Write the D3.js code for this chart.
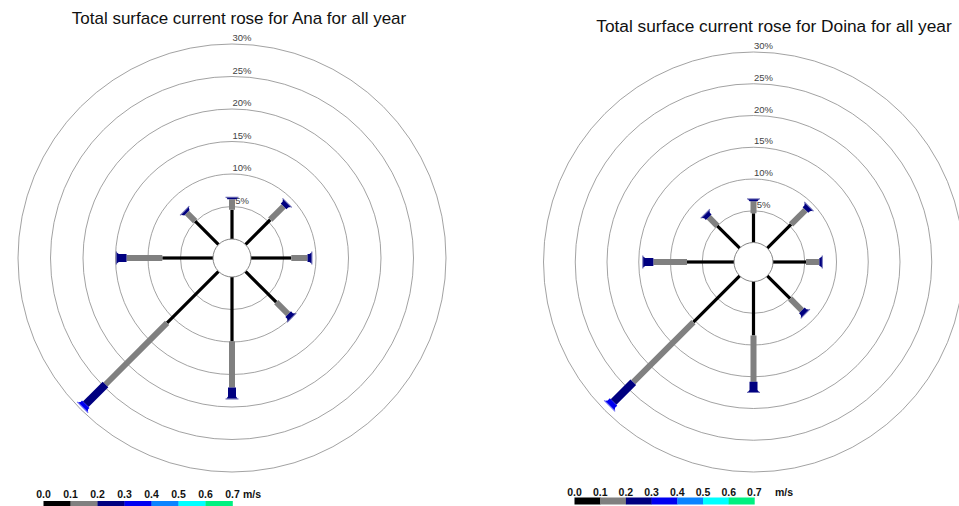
<!DOCTYPE html>
<html>
<head>
<meta charset="utf-8">
<script src="https://cdn.jsdelivr.net/npm/d3@7"></script>
<style>
  html, body { margin: 0; padding: 0; background: #fff; }
  svg { display: block; }
  text { font-family: Arial, "Liberation Sans", sans-serif; }
</style>
</head>
<body>
<svg id="chart" width="959" height="506"></svg>
<script>
// Directions of the rose (clockwise from north)
const directions = ["N", "NE", "E", "SE", "S", "SW", "W", "NW"];
const directionAngles = [0, 45, 90, 135, 180, 225, 270, 315];

// Speed classes (m/s) and their colours
const speedLabels = ["0.0", "0.1", "0.2", "0.3", "0.4", "0.5", "0.6", "0.7"];
const speedColors = ["#000000", "#808080", "#000080", "#0000f0", "#0a84ff", "#00ffff", "#00f080"];

// Frequency rings (%)
const ringTicks = [5, 10, 15, 20, 25, 30];

// Ana: frequency (%) per direction for each speed class
const ana_0_01 = [4.5, 5.4, 6.2, 6.7, 9.9, 11.2, 7.8, 5.1];
const ana_01_02 = [1.6, 2.9, 2.5, 2.6, 7.1, 13.4, 5.5, 1.8];
const ana_02_03 = [0.25, 0.7, 0.6, 0.7, 1.7, 4.3, 1.5, 0.4];
const ana_03_04 = [0, 0, 0, 0, 0, 0.6, 0, 0];

// Doina: frequency (%) per direction for each speed class
const doina_0_01 = [4.6, 5.3, 5.2, 5.1, 8.5, 10.3, 7.4, 5.0];
const doina_01_02 = [1.9, 3.2, 2.1, 2.6, 7.3, 13.4, 5.3, 1.9];
const doina_02_03 = [0.3, 0.7, 0.4, 0.7, 1.6, 4.4, 1.6, 0.7];
const doina_03_04 = [0, 0, 0, 0, 0, 0.8, 0, 0];

// Bar width for each speed class
const classWidths = [3.2, 6, 8, 10.5, 12, 13, 14];

function drawRose(svg, opts) {
  const { cx, cy, inner, outer, title, titleX, titleY, titleSize, classes,
          legendX, legendY, legendSeg, legendH, legendLabelY, unitX } = opts;

  svg.append("text")
    .attr("x", titleX).attr("y", titleY)
    .attr("text-anchor", "middle")
    .attr("font-size", titleSize)
    .attr("fill", "#111")
    .text(title);

  const r = d3.scaleLinear().domain([0, 30]).range([inner, outer]);
  const g = svg.append("g").attr("transform", `translate(${cx},${cy})`);

  // frequency rings
  g.selectAll("circle.ring").data(ringTicks).join("circle")
    .attr("class", "ring")
    .attr("r", d => r(d))
    .attr("fill", "none")
    .attr("stroke", "#8a8a8a")
    .attr("stroke-width", 0.8);

  g.selectAll("text.tick").data(ringTicks).join("text")
    .attr("class", "tick")
    .attr("x", 10)
    .attr("y", d => -r(d) - 3)
    .attr("text-anchor", "middle")
    .attr("font-size", 9.5)
    .attr("fill", "#444")
    .text(d => d + "%");

  // stacked bars per direction
  directions.forEach((dir, i) => {
    const vals = classes.map(c => c[i]);
    const ends = d3.cumsum(vals);
    const segs = vals.map((v, k) => ({ k, v, start: k ? ends[k - 1] : 0, end: ends[k] }))
      .filter(s => s.v > 0);
    const bar = g.append("g").attr("transform", `rotate(${directionAngles[i]})`);
    segs.forEach((s, j) => {
      const w = classWidths[s.k];
      const y0 = -r(s.start), y1 = -r(s.end);
      const last = j === segs.length - 1;
      if (!last) {
        bar.append("rect")
          .attr("x", -w / 2).attr("y", y1)
          .attr("width", w).attr("height", y0 - y1)
          .attr("fill", speedColors[s.k]);
      } else {
        const wt = w + 3;
        bar.append("path")
          .attr("d", `M${-w / 2},${y0} L${w / 2},${y0} L${w / 2},${y1 + 2} L${wt / 2},${y1} L${-wt / 2},${y1} L${-w / 2},${y1 + 2} Z`)
          .attr("fill", speedColors[s.k]);
        bar.append("rect")
          .attr("x", -(w + 5) / 2).attr("y", y1 - 1)
          .attr("width", w + 5).attr("height", 1.2)
          .attr("fill", speedColors[s.k])
          .attr("opacity", 0.55);
      }
    });
  });

  // central calm circle
  g.append("circle")
    .attr("r", inner)
    .attr("fill", "#fff")
    .attr("stroke", "#777")
    .attr("stroke-width", 0.9);

  // speed legend
  const lx = d3.scaleLinear().domain([0, 7]).range([legendX, legendX + 7 * legendSeg]);
  const lg = svg.append("g");
  lg.selectAll("rect").data(speedColors).join("rect")
    .attr("x", (d, k) => lx(k)).attr("y", legendY)
    .attr("width", legendSeg + 0.3).attr("height", legendH)
    .attr("fill", d => d);
  lg.selectAll("text.lab").data(speedLabels).join("text")
    .attr("class", "lab")
    .attr("x", (d, k) => lx(k))
    .attr("y", legendLabelY)
    .attr("text-anchor", "middle")
    .attr("font-size", 10.5)
    .attr("font-weight", "bold")
    .attr("fill", "#111")
    .text(d => d);
  lg.append("text")
    .attr("x", unitX).attr("y", legendLabelY)
    .attr("font-size", 10.5)
    .attr("font-weight", "bold")
    .attr("fill", "#111")
    .text("m/s");
}

const svg = d3.select("#chart");

drawRose(svg, {
  cx: 232, cy: 258, inner: 19, outer: 214,
  title: "Total surface current rose for Ana for all year", titleX: 239, titleY: 24, titleSize: 17,
  classes: [ana_0_01, ana_01_02, ana_02_03, ana_03_04],
  legendX: 43.5, legendY: 501, legendSeg: 27, legendH: 7, legendLabelY: 498, unitX: 243
});

drawRose(svg, {
  cx: 753.5, cy: 262, inner: 19.5, outer: 210,
  title: "Total surface current rose for Doina for all year", titleX: 774, titleY: 32, titleSize: 17.3,
  classes: [doina_0_01, doina_01_02, doina_02_03, doina_03_04],
  legendX: 574.5, legendY: 497.5, legendSeg: 25.7, legendH: 7, legendLabelY: 495.5, unitX: 775
});
</script>
</body>
</html>
